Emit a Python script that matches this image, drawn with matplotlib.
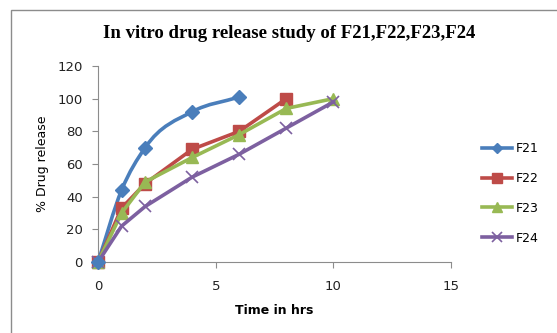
import matplotlib
matplotlib.use("Agg")
import matplotlib.pyplot as plt
import numpy as np
from matplotlib.path import Path
from matplotlib.patches import PathPatch, Rectangle

f21_t = [0, 1, 2, 4, 6]
f21_v = [0, 44, 70, 92, 101]
f22_t = [0, 1, 2, 4, 6, 8]
f22_v = [0, 33, 48, 69, 80, 100]
f23_t = [0, 1, 2, 4, 6, 8, 10]
f23_v = [0, 30, 49, 64, 78, 94, 100]
f24_t = [0, 1, 2, 4, 6, 8, 10]
f24_v = [0, 22, 34, 52, 66, 82, 98]

x_ticks = [0, 5, 10, 15]
y_ticks = [0, 20, 40, 60, 80, 100, 120]

c21, c22, c23, c24 = "#4A7EBB", "#BE4B48", "#98B954", "#7D60A0"

fig = plt.figure(figsize=(5.57, 3.33), dpi=100)
ax = fig.add_axes([0.176, 0.213, 0.634, 0.589])

# outer chart border
fig.patches.append(Rectangle((11/557, -0.05), 1.0, 1 - 10/333 + 0.05, transform=fig.transFigure,
                             fill=False, edgecolor="#8c8c8c", lw=1.0))

def smooth_path(xs, ys):
    xs = np.asarray(xs, float); ys = np.asarray(ys, float)
    n = len(xs)
    d = np.diff(ys) / np.diff(xs)
    m = np.empty(n)
    m[0] = d[0]
    m[-1] = d[-1]
    for i in range(1, n - 1):
        h0 = xs[i] - xs[i-1]; h1 = xs[i+1] - xs[i]
        m[i] = (d[i-1] * h1 + d[i] * h0) / (h0 + h1)
    verts = [(xs[0], ys[0])]
    codes = [Path.MOVETO]
    for i in range(n - 1):
        h = xs[i+1] - xs[i]
        verts += [(xs[i] + h/3, ys[i] + m[i]*h/3),
                  (xs[i+1] - h/3, ys[i+1] - m[i+1]*h/3),
                  (xs[i+1], ys[i+1])]
        codes += [Path.CURVE4] * 3
    return Path(verts, codes)

lw = 2.6
ax.add_patch(PathPatch(smooth_path(f21_t, f21_v), fill=False, edgecolor=c21, lw=lw, zorder=3,
                       capstyle="round", joinstyle="round"))
ax.plot(f21_t, f21_v, ls="none", marker="D", ms=7, color=c21, zorder=4, clip_on=False)
ax.plot([], [], color=c21, lw=lw, marker="D", ms=6, label="F21")
ax.plot(f22_t, f22_v, color=c22, lw=lw, marker="s", ms=8, label="F22", zorder=3, clip_on=False)
ax.plot(f23_t, f23_v, color=c23, lw=lw, marker="^", ms=8, label="F23", zorder=3, clip_on=False)
ax.plot(f24_t, f24_v, color=c24, lw=lw, marker="x", ms=8, mew=1.2, label="F24", zorder=3, clip_on=False)

ax.set_xlim(0, 15)
ax.set_ylim(0, 120)
ax.set_xticks(x_ticks)
ax.set_yticks(y_ticks)
for s in ["top", "right"]:
    ax.spines[s].set_visible(False)
for s in ["left", "bottom"]:
    ax.spines[s].set_color("#8c8c8c")
ax.tick_params(direction="out", length=4, color="#8c8c8c", labelsize=9.5, labelcolor="#222222")
ax.tick_params(axis="x", pad=9)
ax.tick_params(axis="y", pad=7)
ax.set_xlabel("Time in hrs", fontsize=9, fontweight="bold", labelpad=8)
ax.set_ylabel("% Drug release", fontsize=9, labelpad=6)

fig.text(0.52, 0.90, "In vitro drug release study of F21,F22,F23,F24",
         ha="center", va="center", family="Liberation Serif", fontweight="bold", fontsize=13.5)

leg = ax.legend(loc="center left", bbox_to_anchor=(1.055, 0.35), frameon=False,
                fontsize=9, handlelength=2.4, labelspacing=1.35, handletextpad=0.3, markerscale=0.85)

fig.savefig("out.png", dpi=100)
